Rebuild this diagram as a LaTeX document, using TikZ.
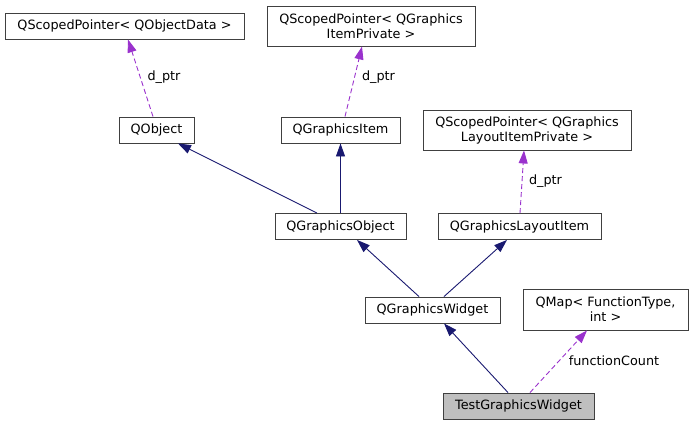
\documentclass[tikz,border=0pt]{standalone}
\usepackage{fontspec}
\setmainfont{DejaVu Sans}
\usetikzlibrary{arrows.meta}
\definecolor{navyedge}{HTML}{191970}
\definecolor{purpedge}{HTML}{9A32CD}
\definecolor{boxline}{HTML}{404040}
\definecolor{boxfill}{HTML}{BFBFBF}
\begin{document}
\begin{tikzpicture}[x=1pt,y=-1pt,
  cls/.style={draw=boxline, line width=0.9pt, fill=white, rectangle, inner sep=0pt, align=center,
    font=\fontsize{12.8}{15}\selectfont, minimum height=26pt},
  inh/.style={draw=navyedge, line width=0.9pt, -{Triangle[length=13pt,width=9pt,fill=navyedge]}},
  use/.style={draw=purpedge, line width=0.9pt, dash pattern=on 5pt off 3pt, -{Triangle[length=13pt,width=9pt,fill=purpedge]}},
  lbl/.style={font=\fontsize{12.8}{15}\selectfont, inner sep=0pt}]
\useasboundingbox (0,0) rectangle (693,425);
\node[cls, minimum width=239pt] (sp1) at (124.5,26) {QScopedPointer< QObjectData >};
\node[cls, minimum width=75pt] (qobj) at (156.5,130) {QObject};
\node[cls, minimum width=208pt, minimum height=40pt] (sp2) at (371,26) {QScopedPointer< QGraphics\\ItemPrivate >};
\node[cls, minimum width=119pt] (qgi) at (340.5,130) {QGraphicsItem};
\node[cls, minimum width=208pt, minimum height=40pt] (sp3) at (527,130) {QScopedPointer< QGraphics\\LayoutItemPrivate >};
\node[cls, minimum width=131pt] (qgo) at (340.5,226.5) {QGraphicsObject};
\node[cls, minimum width=163pt] (qgli) at (519.5,226.5) {QGraphicsLayoutItem};
\node[cls, minimum width=135pt] (qgw) at (432.5,310) {QGraphicsWidget};
\node[cls, minimum width=165pt, minimum height=41pt] (qmap) at (605.5,309.5) {QMap< FunctionType,\\int >};
\node[cls, minimum width=151pt, fill=boxfill] (tgw) at (518.5,406) {TestGraphicsWidget};

\draw[use] ([xshift=-3.5pt]qobj.north) -- ([xshift=3.5pt]sp1.south);
\draw[use] ([xshift=4.5pt]qgi.north) -- ([xshift=-9pt]sp2.south);
\draw[use] ([xshift=0.5pt]qgli.north) -- ([xshift=-3pt]sp3.south);
\draw[inh] ([xshift=-23.5pt]qgo.north) -- ([xshift=21.5pt]qobj.south);
\draw[inh] (qgo.north) -- (qgi.south);
\draw[inh] ([xshift=-13.5pt]qgw.north) -- ([xshift=16.5pt]qgo.south);
\draw[inh] ([xshift=11.5pt]qgw.north) -- ([xshift=-12.5pt]qgli.south);
\draw[inh] ([xshift=-10.5pt]tgw.north) -- ([xshift=11.5pt]qgw.south);
\draw[use] ([xshift=11.5pt]tgw.north) -- ([xshift=-18.5pt]qmap.south);

\node[lbl] (l1) at (164,77) {d\_ptr};
\node[lbl] (l2) at (378.5,77) {d\_ptr};
\node[lbl] (l3) at (545.5,181) {d\_ptr};
\node[lbl] (l4) at (614,361) {functionCount};
\end{tikzpicture}
\end{document}
